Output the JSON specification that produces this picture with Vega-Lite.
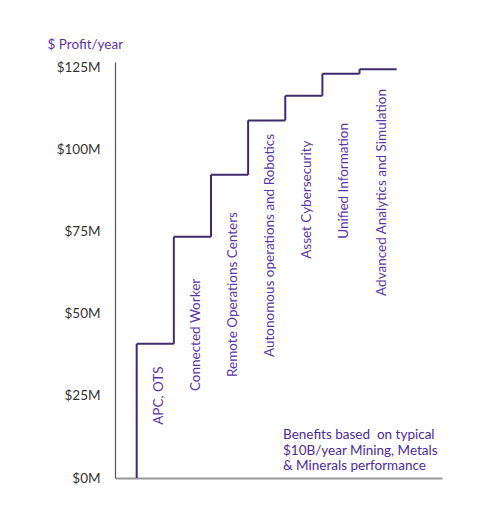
{
  "$schema": "https://vega.github.io/schema/vega-lite/v6.json",
  "autosize": {"type": "none"},
  "width": 327,
  "height": 416,
  "padding": {"left": 115, "top": 62, "right": 54, "bottom": 34},
  "background": "white",
  "config": {
    "view": {"stroke": null},
    "font": "Lato",
    "axis": {"grid": false, "ticks": false}
  },
  "data": {
    "values": [
      {"step": 1, "next": 2, "name": "APC, OTS", "from": 0, "profit": 40.9, "label_at": 16.2},
      {"step": 2, "next": 3, "name": "Connected Worker", "from": 40.9, "profit": 73.5, "label_at": 26.5},
      {"step": 3, "next": 4, "name": "Remote Operations Centers", "from": 73.5, "profit": 92.4, "label_at": 30.8},
      {"step": 4, "next": 5, "name": "Autonomous operations and Robotics", "from": 92.4, "profit": 109.0, "label_at": 36.9},
      {"step": 5, "next": 6, "name": "Asset Cybersecurity", "from": 109.0, "profit": 116.5, "label_at": 66.8},
      {"step": 6, "next": 7, "name": "Unified Information", "from": 116.5, "profit": 123.2, "label_at": 72.9},
      {"step": 7, "next": 8, "name": "Advanced Analytics and Simulation", "from": 123.2, "profit": 124.6, "label_at": 55.5}
    ]
  },
  "layer": [
    {
      "mark": {"type": "rule", "color": "#3f2a6e", "strokeWidth": 2},
      "encoding": {
        "x": {
          "field": "step",
          "type": "quantitative",
          "scale": {"domain": [0.416, 9.22], "nice": false, "zero": false},
          "axis": {"labels": false, "title": null, "domainColor": "#9a9a9a", "domainWidth": 2}
        },
        "y": {
          "field": "from",
          "type": "quantitative",
          "scale": {"domain": [0, 126.8], "nice": false},
          "axis": {
            "values": [0, 25, 50, 75, 100, 125],
            "labelExpr": "'$' + datum.value + 'M'",
            "labelFontSize": 13.5,
            "labelColor": "#333333",
            "labelPadding": 15,
            "domainColor": "#555555",
            "domainWidth": 1.2,
            "title": "$ Profit/year",
            "titleAngle": 0,
            "titleAlign": "left",
            "titleBaseline": "middle",
            "titleX": -68,
            "titleY": -18,
            "titleColor": "#5c34a8",
            "titleFontSize": 13.5,
            "titleFontWeight": "normal"
          }
        },
        "y2": {"field": "profit"}
      }
    },
    {
      "mark": {"type": "rule", "color": "#3f2a6e", "strokeWidth": 2},
      "encoding": {
        "x": {"field": "step", "type": "quantitative"},
        "x2": {"field": "next"},
        "y": {"field": "profit", "type": "quantitative"}
      }
    },
    {
      "mark": {
        "type": "text",
        "angle": 270,
        "align": "left",
        "baseline": "middle",
        "dy": 22,
        "color": "#5c34a8",
        "fontSize": 13.5
      },
      "encoding": {
        "x": {"field": "step", "type": "quantitative"},
        "y": {"field": "label_at", "type": "quantitative"},
        "text": {"field": "name"}
      }
    },
    {
      "data": {
        "values": [
          {"x": 4.94, "y": 13.1, "note": ["Benefits based\u00a0 on typical", "$10B/year Mining, Metals", "& Minerals performance"]}
        ]
      },
      "mark": {
        "type": "text",
        "align": "left",
        "baseline": "middle",
        "color": "#4b2a9e",
        "fontSize": 13.5,
        "lineHeight": 15.5
      },
      "encoding": {
        "x": {"field": "x", "type": "quantitative"},
        "y": {"field": "y", "type": "quantitative"},
        "text": {"field": "note"}
      }
    }
  ]
}
